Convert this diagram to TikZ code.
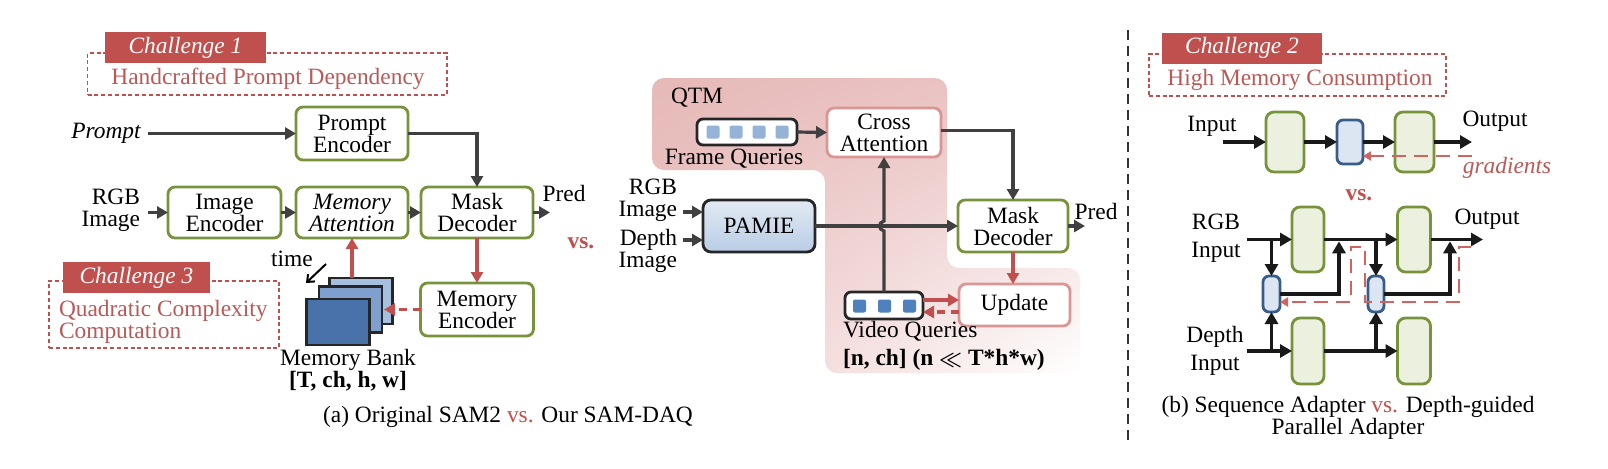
\documentclass[tikz,border=0pt]{standalone}
\usepackage{fontspec}
\setmainfont{Liberation Serif}
\usetikzlibrary{arrows.meta,shadings}
\definecolor{chred}{HTML}{C0504D}
\definecolor{txred}{HTML}{B85A57}
\definecolor{olive}{HTML}{77933C}
\definecolor{darkarrow}{HTML}{404040}
\definecolor{pinkfill}{HTML}{E6B9B8}
\definecolor{pinkfillB}{HTML}{EBC6C5}
\definecolor{pinkfillC}{HTML}{EDCACA}
\definecolor{pinkborder}{HTML}{D99694}
\definecolor{lbsq}{HTML}{95B3D7}
\definecolor{dbsq}{HTML}{4F81BD}
\definecolor{greenfill}{HTML}{EBF1DE}
\definecolor{adfill}{HTML}{DCE6F2}
\definecolor{adborder}{HTML}{385D8A}
\definecolor{mbA}{HTML}{A7BFDE}
\definecolor{mbB}{HTML}{7F9FCF}
\definecolor{mbC}{HTML}{4A72AA}
\definecolor{pamtop}{HTML}{E2EAF3}
\definecolor{pambot}{HTML}{B9CDE5}
\definecolor{gradred}{HTML}{D06461}
\begin{document}
\begin{tikzpicture}[x=0.5pt,y=-0.5pt,
  every node/.style={font=\fontsize{11.7}{11}\selectfont, inner sep=0pt, outer sep=0pt},
  sz/.style 2 args={minimum width=#1*0.5pt, minimum height=#2*0.5pt},
  obox/.style={draw=olive, line width=1.4pt, fill=white, rounded corners=3.5pt, align=center},
  pbox/.style={draw=pinkborder, line width=1.4pt, fill=white, rounded corners=3.5pt, align=center},
  qbox/.style={draw=black!85, line width=1.4pt, fill=white, rounded corners=3pt},
  sqL/.style={fill=lbsq, rounded corners=1pt, sz={13}{13}},
  sqD/.style={fill=dbsq, rounded corners=1pt, sz={13}{13}},
  chbox/.style={fill=chred, text=white, font=\fontsize{11.7}{11}\selectfont\itshape},
  dbox/.style={draw=chred, dash pattern=on 2pt off 1.4pt, line width=0.9pt},
  mbk/.style={draw=black!85, line width=1.2pt, sz={63}{46}},
  gbox/.style={draw=olive, line width=1.4pt, fill=greenfill, rounded corners=4pt},
  abox/.style={draw=adborder, line width=1.4pt, fill=adfill, rounded corners=3pt},
  arr/.style={draw=darkarrow, line width=1.6pt, -{Triangle[length=5.5pt,width=6pt]}},
  rarr/.style={draw=chred, line width=1.6pt, -{Triangle[length=5.5pt,width=6pt]}},
  rdarr/.style={draw=chred, line width=1.6pt, dash pattern=on 4pt off 3pt, -{Triangle[length=5.5pt,width=6pt]}},
  barr/.style={draw=black!90, line width=1.8pt, -{Triangle[length=6pt,width=6.5pt]}},
  gdash/.style={draw=gradred, line width=1.1pt, dash pattern=on 7pt off 4pt},
]
\useasboundingbox (0,0) rectangle (1608,468);
\fill[white] (0,0) rectangle (1608,468);

% ---------------- QTM region ----------------
\path[shading=bilinear interpolation, upper left=pinkfill, upper right=pinkfillB, lower left=pinkfillC, lower right=white, rounded corners=6pt]
  (652,78) -- (947,78) -- (947,268) -- (1080,268) -- (1080,373) -- (825,373) -- (825,170) -- (652,170) -- cycle;

% ---------------- Challenge boxes ----------------
\node[dbox, sz={359.5}{42}] (cd1) at (267.25,74) {};
\node[chbox, sz={161}{31}] (c1) at (185.5,47.5) {Challenge 1};
\node[text=txred] (ht1) at (268,79) {Handcrafted Prompt Dependency};

\node[dbox, sz={230}{67}] (cd3) at (164,314.5) {};
\node[chbox, sz={147}{31}] (c3) at (136.5,277.5) {Challenge 3};
\node[text=txred, anchor=west, align=left] (ht3) at (59,322) {Quadratic Complexity\\Computation};

\node[dbox, sz={297}{42}] (cd2) at (1297.5,75) {};
\node[chbox, sz={160}{31}] (c2) at (1242,48) {Challenge 2};
\node[text=txred] (ht2) at (1300,80) {High Memory Consumption};

% ---------------- Left: SAM2 ----------------
\node[font=\fontsize{11.7}{11}\selectfont\itshape] (prompt) at (106,133) {Prompt};
\coordinate (pA) at (148,133.5);
\node[obox, sz={112}{53}] (pe) at (352,133.5) {Prompt\\Encoder};
\node[anchor=east, align=right] (rgb1) at (140,210) {RGB\\Image};
\coordinate (rA) at (148,212.5);
\node[obox, sz={113}{51}] (ie) at (224.5,212.5) {Image\\Encoder};
\node[obox, sz={112}{51}] (ma) at (352,212.5) {\textit{Memory}\\\textit{Attention}};
\node[obox, sz={112}{51}] (md) at (477,212.5) {Mask\\Decoder};
\node[obox, sz={113}{53}] (me) at (477,309.5) {Memory\\Encoder};
\node (pred1) at (564,193) {Pred};
\coordinate (pO) at (550,212.5);

\node[mbk, fill=mbA] (mb3) at (361,301) {};
\node[mbk, fill=mbB] (mb2) at (350.5,309.5) {};
\node[mbk, fill=mbC] (mb1) at (338,322) {};
\node (time) at (292,259) {time};
\coordinate (t1) at (326,264);
\coordinate (t2) at (306,283);
\node[align=center] (mbl) at (348,370) {Memory Bank\\\textbf{[T, ch, h, w]}};

\draw[arr] (pA) -- (pe.west);
\draw[arr] (pe.east) -| (md.north);
\draw[arr] (rA) -- (ie.west);
\draw[arr] (ie.east) -- (ma.west);
\draw[arr] (ma.east) -- (md.west);
\draw[arr] (md.east) -- (pO);
\draw[rarr] (md.south) -- (me.north);
\draw[rarr] (ma.south |- mb3.north) -- (ma.south);
\draw[rdarr, shorten >=1pt] (me.west) -- (mb2.east);
\draw[line width=1pt, -{Straight Barb[length=3pt,width=5pt]}] (t1) -- (t2);

\node[align=center] (capa) at (508,417) {(a) Original SAM2 \textcolor{chred}{vs.} Our SAM-DAQ};
\node[text=chred, font=\fontsize{11.7}{11}\selectfont\bfseries] (vs1) at (581,243) {vs.};

% ---------------- Middle: SAM-DAQ ----------------
\node (qtm) at (697,98) {QTM};
\node[qbox, sz={100}{26}] (fq) at (747,132) {};
\node[sqL] (fq1) at (713,132) {};
\node[sqL] (fq2) at (736,132) {};
\node[sqL] (fq3) at (759,132) {};
\node[sqL] (fq4) at (782,132) {};
\node (fql) at (734,159) {Frame Queries};
\node[pbox, sz={114}{49}] (ca) at (884,132.5) {Cross\\Attention};
\node[obox, sz={110}{52}] (md2) at (1013,226) {Mask\\Decoder};
\node[draw=black!85, line width=1.4pt, rounded corners=4pt, top color=pamtop, bottom color=pambot, sz={112}{52}] (pam) at (759,226) {PAMIE};
\node[anchor=east, align=right] (rgb2) at (677,200) {RGB\\Image};
\node[anchor=east, align=right] (dep2) at (677,251) {Depth\\Image};
\coordinate (r2) at (683,212);
\coordinate (d2) at (683,240);
\node[qbox, sz={78}{27}] (vq) at (884,305.5) {};
\node[sqD] (vq1) at (859.5,306) {};
\node[sqD] (vq2) at (884.5,306) {};
\node[sqD] (vq3) at (909.5,306) {};
\node[pbox, sz={111}{42}] (up) at (1014.5,305) {Update};
\node[anchor=west, align=left] (vql) at (843,346) {Video Queries\\[3pt]{\bfseries\boldmath [n, ch] (n {\fontsize{10}{10}\selectfont$\ll$} T*h*w)}};
\node (pred2) at (1096,211) {Pred};
\coordinate (pO2) at (1085,226);

\draw[arr] (fq.east) -- (ca.west);
\draw[arr] ([yshift=1pt]ca.east) -| (md2.north);
\draw[arr] (pam.east) -- (md2.west);
\draw[arr] (r2) -- (r2 -| pam.west);
\draw[arr] (d2) -- (d2 -| pam.west);
\draw[arr] (vq.north) -- (884,231) .. controls (878,229.5) and (878,222.5) .. (884,221) -- (ca.south);
\draw[arr] (md2.east) -- (pO2);
\draw[rarr] (md2.south) -- (md2.south |- up.north);
\path ([yshift=2.75pt]vq.east) coordinate (v1) ([yshift=-3.25pt]vq.east) coordinate (v2);
\draw[rarr] (v1) -- (v1 -| up.west);
\draw[rdarr] (v2 -| up.west) -- (v2);

% ---------------- Divider ----------------
\coordinate (dv1) at (1128,30);
\coordinate (dv2) at (1128,441);
\draw[black!80, line width=1pt, dash pattern=on 5pt off 3pt] (dv1) -- (dv2);

% ---------------- Right: adapters ----------------
\node (in1) at (1212,126) {Input};
\coordinate (inA) at (1223,142);
\node[gbox, sz={38}{60}] (g1) at (1285,142) {};
\node[abox, sz={26}{44}] (b1) at (1350,142) {};
\node[gbox, sz={39}{60}] (g2) at (1414.5,142) {};
\coordinate (outA) at (1472,142);
\node (out1) at (1495,121) {Output};
\coordinate (gr1) at (1472,156);
\node[text=txred, font=\fontsize{11.7}{11}\selectfont\itshape] (grad) at (1507,168) {gradients};
\node[text=chred, font=\fontsize{11.7}{11}\selectfont\bfseries] (vs2) at (1359,195) {vs.};

\draw[barr] (inA) -- (g1.west);
\draw[barr] (g1.east) -- (b1.west);
\draw[barr] (b1.east) -- (g2.west);
\draw[barr] (g2.east) -- (outA);
\draw[gdash, -{Triangle[length=4pt,width=4.5pt]}] (gr1) -- (gr1 -| b1.east);

\node[align=center] (rgb3) at (1216,238) {RGB\\[3pt]Input};
\node[align=center] (dep3) at (1215,351) {Depth\\[3pt]Input};
\node[gbox, sz={32}{65}] (gTL) at (1308,239.5) {};
\node[gbox, sz={33}{65}] (gTR) at (1414,239.5) {};
\node[gbox, sz={32}{66}] (gBL) at (1308,351) {};
\node[gbox, sz={33}{66}] (gBR) at (1414,351) {};
\node[abox, sz={17}{36}] (aL) at (1271.5,294) {};
\node[abox, sz={16}{36}] (aR) at (1376,294) {};
\coordinate (rS) at (1247,239.5);
\coordinate (rO) at (1483,239.5);
\coordinate (dS) at (1247,351);
\coordinate (j1) at (1339,239.5);
\coordinate (j2) at (1450,239.5);
\node (out2) at (1487,219) {Output};

\draw[barr] (rS) -- (gTL.west);
\draw[barr] (gTL.east) -- (gTR.west);
\draw[barr] (gTR.east) -- (rO);
\draw[barr] (dS) -- (gBL.west);
\draw[barr] (gBL.east) -- (gBR.west);
\draw[barr] (aL.north |- rS) -- (aL.north);
\draw[barr] (aR.north |- rS) -- (aR.north);
\draw[barr] (aL.south |- dS) -- (aL.south);
\draw[barr] (aR.south |- dS) -- (aR.south);
\draw[barr, shorten >=0.9pt] (aL.east) -| (j1);
\draw[barr, shorten >=0.9pt] (aR.east) -| (j2);

\coordinate (gs) at (1471,247);
\coordinate (gr2) at (1351,302);
\draw[gdash, -{Triangle[length=4pt,width=4.5pt]}] (gs) -- (1459,247) -- (1459,302) -- (1365,302) -- (1365,247) -- (1351,247) -- (gr2) -- (gr2 -| aL.east);

\node[align=center] (capb) at (1348,417.5) {(b) Sequence Adapter \textcolor{chred}{vs.} Depth-guided\\Parallel Adapter};
\end{tikzpicture}
\end{document}
